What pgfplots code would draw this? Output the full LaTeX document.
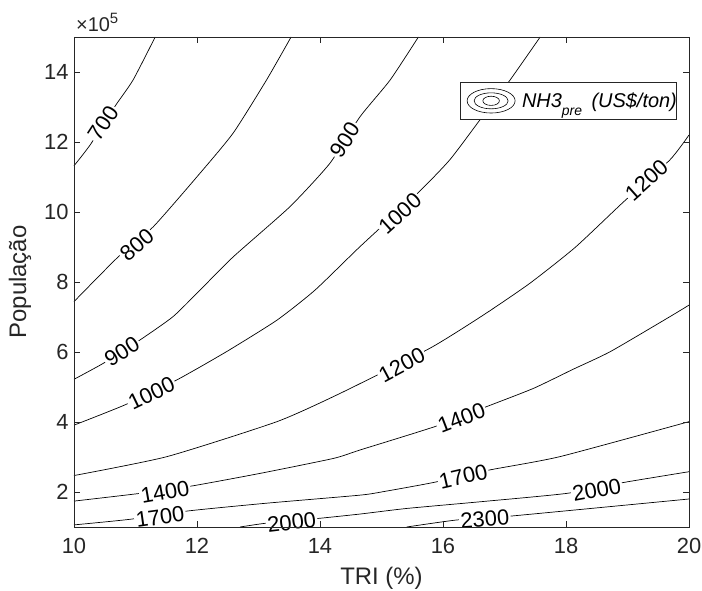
\documentclass[border=0pt]{standalone}
\usepackage{fontspec}
\setmainfont{Liberation Sans}
\usepackage{pgfplots}
\pgfplotsset{compat=1.18}
\definecolor{axgray}{RGB}{38,38,38}
\tikzset{clab/.style={fill=white, inner sep=1.5bp, font=\fontsize{22}{24}\selectfont, text=black}}
\pgfplotsset{cline/.style={black, line width=0.7pt, forget plot, smooth, tension=0.35}}
\begin{document}
\begin{tikzpicture}
\path[use as bounding box] (-74bp,-64bp) rectangle (628bp,527bp);
\begin{axis}[
  at={(0,0)}, anchor=south west,
  scale only axis, width=615bp, height=490bp,
  xmin=10, xmax=20, ymin=1, ymax=15,
  xtick={10,12,...,20}, ytick={2,4,...,14},
  tick align=inside, major tick length=6bp,
  axis line style={axgray, line width=0.7pt},
  every tick/.style={axgray, line width=0.7pt},
  tick label style={font=\fontsize{22}{26}\selectfont, text=axgray},
  xticklabel style={yshift=-8bp},
  yticklabel style={xshift=-2bp},
  /pgf/number format/assume math mode=true,
  xlabel={TRI (\%)}, ylabel={População},
  every axis x label/.style={at={(axis description cs:0.5,-0.118)}, anchor=base, font=\fontsize{24}{28}\selectfont, text=axgray},
  every axis y label/.style={at={(axis description cs:-0.0878,0.5)}, anchor=center, rotate=90, font=\fontsize{24}{28}\selectfont, text=axgray},
  clip=false, axis on top,
  legend style={at={(axis description cs:0.6276,0.9082)}, anchor=north west,
    draw=axgray, line width=0.7pt, inner sep=0pt, fill=white,
    font=\fontsize{20}{24}\selectfont\itshape, nodes={inner sep=0pt}},
]
\addlegendimage{legend image code/.code={
  \path[draw=none, fill=none] (0bp,-18.5bp) rectangle (61.7bp,18.5bp);
  \draw[black, line width=0.6pt, fill=none] (30.8bp,0) ellipse [x radius=24bp, y radius=12.2bp];
  \draw[black, line width=0.6pt, fill=none] (30.8bp,0) ellipse [x radius=17bp, y radius=8bp];
  \draw[black, line width=0.6pt, fill=none] (30.8bp,0) ellipse [x radius=8.3bp, y radius=4.6bp];
}}
\addlegendentry{NH3\raisebox{-0.42em}{\fontsize{14}{16}\selectfont pre}\hspace{4bp} (US\$/ton)}

% 700
\addplot[cline] coordinates {(10,11.32) (10.26,11.91) (10.67,13.03) (10.96,13.77) (11.32,15)};
% 800
\addplot[cline] coordinates {(10,7.44) (10.72,8.72) (11.29,9.58) (12.05,11.11) (12.59,12.26) (13.13,13.77) (13.53,15)};
% 900
\addplot[cline] coordinates {(10,5.22) (10.48,5.68) (11.07,6.34) (11.61,7.01) (12.05,7.77) (12.59,8.72) (13.51,10.15) (14.16,11.39) (14.65,12.72) (15.14,13.77) (15.6,15)};
% 1000
\addplot[cline] coordinates {(10,3.91) (10.83,4.49) (11.67,5.2) (12.48,6.01) (13.3,6.91) (13.92,7.77) (14.65,9.01) (15.59,10.54) (16.11,11.49) (16.6,12.63) (17.09,13.77) (17.58,15)};
% 1200
\addplot[cline] coordinates {(10,2.47) (11.51,3.01) (13.3,4.01) (14.33,4.82) (15.79,6.11) (16.66,7.06) (17.41,7.96) (18.15,8.99) (18.93,10.28) (19.69,11.49) (20,12.2)};
% 1400
\addplot[cline] coordinates {(10,1.74) (11.07,1.96) (11.91,2.17) (13.02,2.53) (14.22,2.96) (14.65,3.2) (15.87,3.87) (16.71,4.44) (17.47,4.96) (18.12,5.51) (18.72,6.01) (19.69,7.01) (20,7.34)};
% 1700
\addplot[cline] coordinates {(10,1.06) (10.91,1.22) (11.86,1.46) (13.13,1.68) (14.65,1.91) (15.03,2.01) (15.84,2.27) (16.76,2.63) (17.9,3.01) (20,4.01)};
% 2000
\addplot[cline] coordinates {(12.7,1.0) (13.13,1.11) (14.0,1.25) (14.65,1.37) (15.41,1.53) (16.6,1.72) (18.01,1.96) (18.93,2.27) (20,2.58)};
% 2300
\addplot[cline] coordinates {(15.41,1.0) (16.22,1.2) (17.09,1.31) (20,1.8)};

\node[clab, rotate=57] at (axis cs:10.48,12.53) {700};
\node[clab, rotate=40.6] at (axis cs:11.02,9.06) {800};
\node[clab, rotate=32.4] at (axis cs:10.78,6.01) {900};
\node[clab, rotate=57] at (axis cs:14.41,12.06) {900};
\node[clab, rotate=25.8] at (axis cs:11.26,4.82) {1000};
\node[clab, rotate=42] at (axis cs:15.3,9.96) {1000};
\node[clab, rotate=28] at (axis cs:15.33,5.63) {1200};
\node[clab, rotate=41.8] at (axis cs:19.31,10.91) {1200};
\node[clab, rotate=9.9] at (axis cs:11.48,1.99) {1400};
\node[clab, rotate=21] at (axis cs:16.3,4.11) {1400};
\node[clab, rotate=8.1] at (axis cs:11.4,1.29) {1700};
\node[clab, rotate=13] at (axis cs:16.33,2.44) {1700};
\node[clab, rotate=6.8] at (axis cs:13.54,1.13) {2000};
\node[clab, rotate=10.6] at (axis cs:18.5,2.06) {2000};
\node[clab, rotate=4.3] at (axis cs:16.68,1.22) {2300};
\end{axis}
\node[anchor=base west, text=axgray, inner sep=0pt, font=\fontsize{20}{24}\selectfont] at (2bp,495bp) {×10\raisebox{0.42em}{\fontsize{15}{18}\selectfont 5}};
\end{tikzpicture}
\end{document}
